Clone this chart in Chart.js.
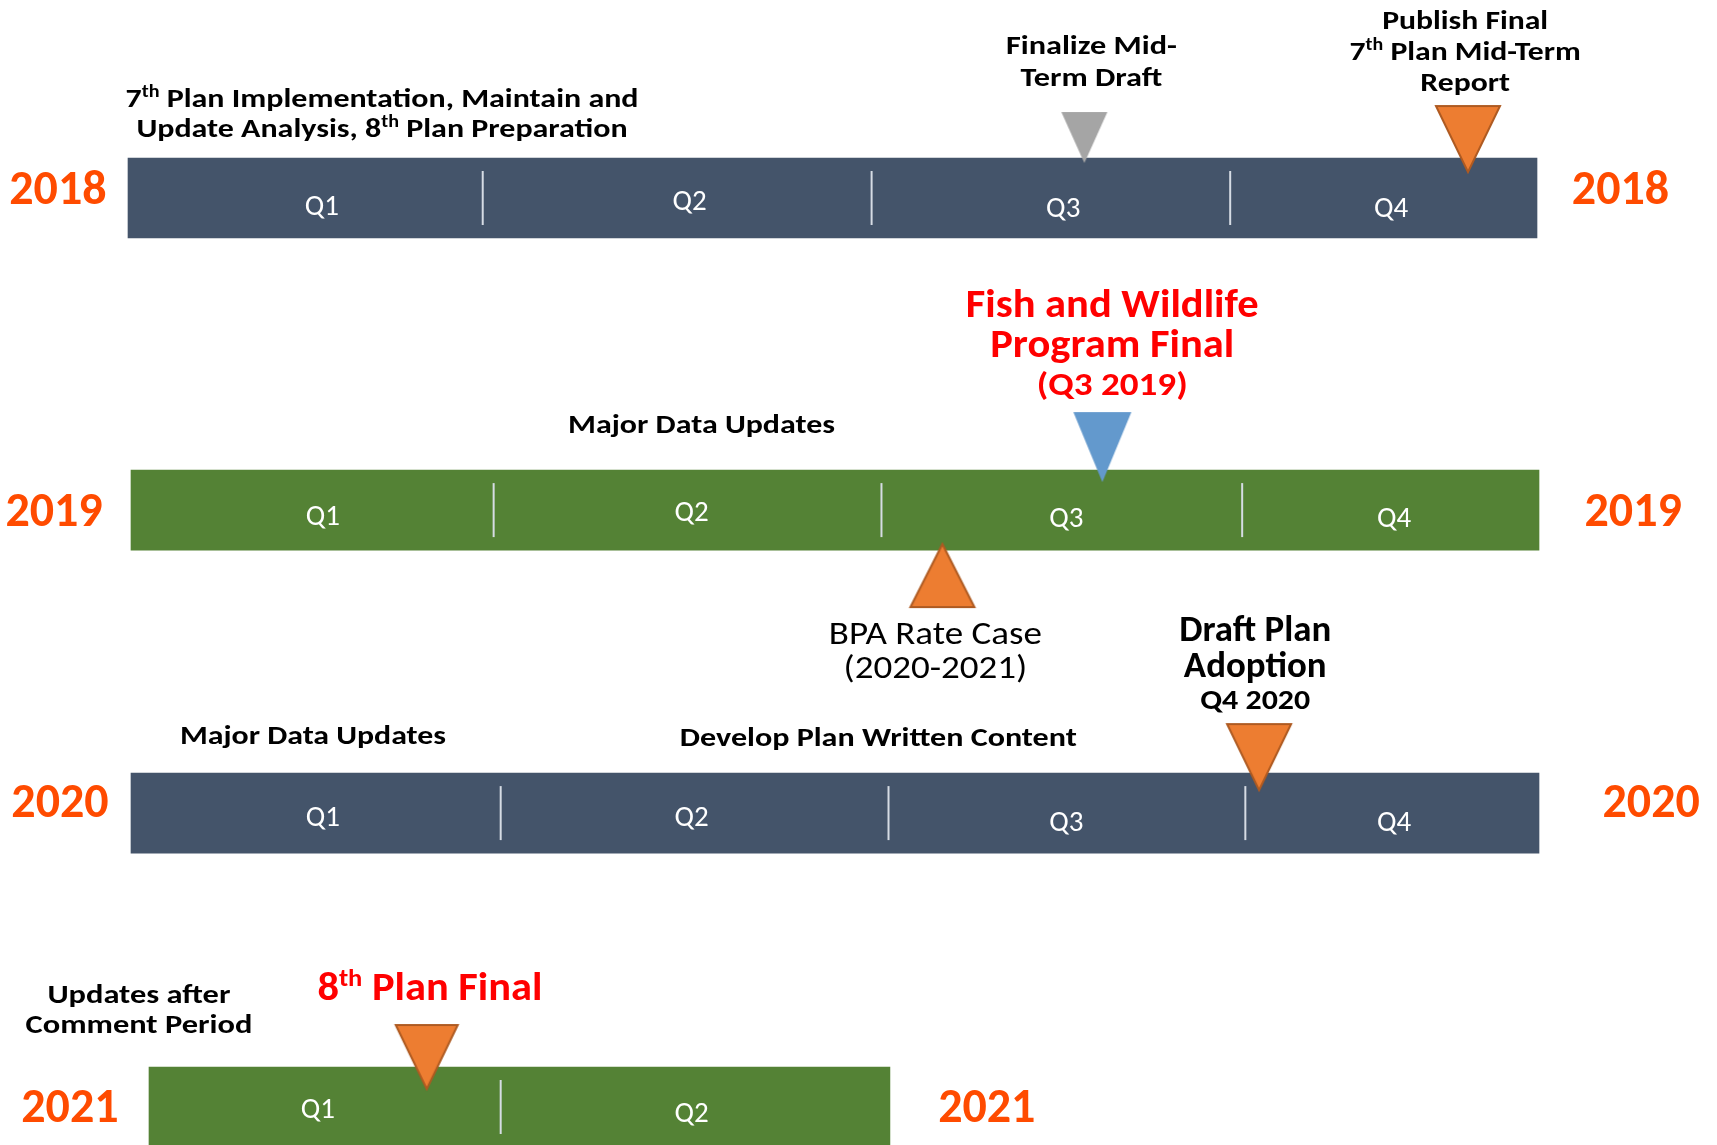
<!DOCTYPE html>
<html>
<head>
  <title>Plan Timeline 2018-2021</title>
  <style>
    body {
      margin: 0;
      padding: 0;
      background-color: white;
    }

    #wrap {
      width: 1717px;
      height: 1145px;
    }
  </style>
</head>
<body>
  <div id="wrap"><canvas id="timeline"></canvas></div>

  <script src="https://cdn.jsdelivr.net/npm/chart.js"></script>
  <script>
    // one row per year, x runs in quarters (0 = start of Q1, 4 = end of Q4)
    const years = ["2018", "2019", "2020", "2021"];
    const barStart = [0, 0.0085, 0.0085, 0.0596];
    const barEnd = [4, 4.0057, 4.0057, 2.163];
    const quarterLabels = [["Q1", "Q2", "Q3", "Q4"], ["Q1", "Q2", "Q3", "Q4"], ["Q1", "Q2", "Q3", "Q4"], ["Q1", "Q2"]];
    const quarterCenters = [[0.550, 1.594, 2.655, 3.586], [0.553, 1.600, 2.664, 3.594], [0.553, 1.600, 2.664, 3.594], [0.539, 1.600]];
    const quarterBreaks = [[1.007, 2.111, 3.129], [1.038, 2.139, 3.163], [1.058, 2.159, 3.172], [1.058]];

    // milestone markers
    const milestoneRow = [0, 0, 1, 1, 2, 3];
    const milestoneX = [2.715, 3.804, 2.766, 2.312, 3.211, 0.848];

    // layout / styles
    const rowPos = [0, 1.03, 2.03, 3];
    const barColors = ["#44546A", "#548235", "#44546A", "#548235"];
    const FONT = "Carlito, Calibri, 'Liberation Sans Narrow', 'DejaVu Sans Condensed', sans-serif";
    const YEAR_COLOR = "#FF4B00";

    const markerStyle = [
      { fill: "#A5A5A5", stroke: null, w: 46, h: 51, tip: -35, up: false },
      { fill: "#ED7D31", stroke: "#AE5A21", w: 64, h: 66, tip: -26, up: false },
      { fill: "#6399CD", stroke: null, w: 58, h: 70, tip: -28, up: false },
      { fill: "#ED7D31", stroke: "#AE5A21", w: 64, h: 63, tip: 34, up: true },
      { fill: "#ED7D31", stroke: "#AE5A21", w: 64, h: 66, tip: -23, up: false },
      { fill: "#ED7D31", stroke: "#AE5A21", w: 62, h: 64, tip: -18, up: false }
    ];

    const yearLeftX = [-0.199, -0.210, -0.193, -0.165];
    const yearRightX = [4.237, 4.273, 4.324, 2.438];
    const yearDy = [6, 16, 4, 15];
    const quarterDy = [[7, 2, 9, 9], [5, 1, 7, 7], [3, 3, 8, 8], [1, 5]];

    // free text next to the bars; "^th" is drawn as superscript
    const notes = [
      { row: 0, x: 0.721, dy: [-91, -61], size: 27, w: 513, weight: "bold", color: "black",
        lines: ["7^th Plan Implementation, Maintain and", "Update Analysis, 8^th Plan Preparation"] },
      { row: 0, x: 2.735, dy: [-144, -112], size: 27, w: 171, weight: "bold", color: "black",
        lines: ["Finalize Mid-", "Term Draft"] },
      { row: 0, x: 3.796, dy: [-169, -138, -107], size: 27, w: 166, weight: "bold", color: "black",
        lines: ["Publish Final", "7^th Plan Mid-Term", "Report"] },
      { row: 1, x: 1.628, dy: [-77], size: 27, w: 267, weight: "bold", color: "black",
        lines: ["Major Data Updates"] },
      { row: 1, x: 2.794, dy: [-193, -153], size: 40, w: 293, weight: "bold", color: "#FF0000",
        lines: ["Fish and Wildlife", "Program Final"] },
      { row: 1, x: 2.794, dy: [-115], size: 32, w: 151, weight: "bold", color: "#FF0000",
        lines: ["(Q3 2019)"] },
      { row: 1, x: 2.292, dy: [134, 168], size: 33, w: 213, weight: "normal", color: "black",
        lines: ["BPA Rate Case", "(2020-2021)"] },
      { row: 2, x: 3.200, dy: [-172, -136], size: 36, w: 152, weight: "bold", color: "black",
        lines: ["Draft Plan", "Adoption"] },
      { row: 2, x: 3.200, dy: [-104], size: 28, w: 110, weight: "bold", color: "black",
        lines: ["Q4 2020"] },
      { row: 2, x: 0.525, dy: [-69], size: 27, w: 266, weight: "bold", color: "black",
        lines: ["Major Data Updates"] },
      { row: 2, x: 2.130, dy: [-67], size: 27, w: 397, weight: "bold", color: "black",
        lines: ["Develop Plan Written Content"] },
      { row: 3, x: 0.031, dy: [-104, -74], size: 27, w: 183, weight: "bold", color: "black",
        lines: ["Updates after", "Comment Period"] },
      { row: 3, x: 0.857, dy: [-107], size: 40, w: 225, weight: "bold", color: "#FF0000",
        lines: ["8^th Plan Final"] }
    ];

    function triangleImage(s) {
      const half = Math.abs(s.tip) + s.h + 4;
      const c = document.createElement("canvas");
      c.width = s.w + 6;
      c.height = half * 2;
      const g = c.getContext("2d");
      const cx = c.width / 2;
      const ty = half + s.tip;
      const by = s.up ? ty + s.h : ty - s.h;
      g.beginPath();
      g.moveTo(cx - s.w / 2, by);
      g.lineTo(cx + s.w / 2, by);
      g.lineTo(cx, ty);
      g.closePath();
      g.fillStyle = s.fill;
      g.fill();
      if (s.stroke) {
        g.strokeStyle = s.stroke;
        g.lineWidth = 2;
        g.stroke();
      }
      return c;
    }

    function splitSup(line) {
      return line.split(/(\^\w+)/).filter(p => p).map(p => p[0] === "^" ? { t: p.slice(1), sup: true } : { t: p, sup: false });
    }

    function lineWidth(ctx, parts, font) {
      let w = 0;
      parts.forEach(p => {
        ctx.font = p.sup ? font.sup : font.main;
        w += ctx.measureText(p.t).width;
      });
      return w;
    }

    function drawLine(ctx, parts, x, y, size, weight, sx) {
      const font = { main: weight + " " + size + "px " + FONT, sup: weight + " " + Math.round(size * 0.62) + "px " + FONT };
      const w = lineWidth(ctx, parts, font);
      ctx.save();
      ctx.translate(x, y);
      ctx.scale(sx, 1);
      let cx = -w / 2;
      parts.forEach(p => {
        ctx.font = p.sup ? font.sup : font.main;
        ctx.fillText(p.t, cx, p.sup ? -size * 0.36 : 0);
        cx += ctx.measureText(p.t).width;
      });
      ctx.restore();
    }

    const textPlugin = {
      id: "timelineText",
      afterDatasetsDraw(chart) {
        const ctx = chart.ctx;
        const xs = chart.scales.x;
        const ys = chart.scales.y;
        ctx.save();
        ctx.textAlign = "left";
        ctx.textBaseline = "alphabetic";

        // year names on both sides of each bar
        ctx.fillStyle = YEAR_COLOR;
        years.forEach((yr, i) => {
          const y = ys.getPixelForValue(rowPos[i]) + yearDy[i];
          const parts = [{ t: yr, sup: false }];
          drawLine(ctx, parts, xs.getPixelForValue(yearLeftX[i]), y, 48, "bold", 1);
          drawLine(ctx, parts, xs.getPixelForValue(yearRightX[i]), y, 48, "bold", 1);
        });

        // quarter names inside the bars
        ctx.fillStyle = "white";
        quarterLabels.forEach((qs, i) => {
          qs.forEach((q, j) => {
            const y = ys.getPixelForValue(rowPos[i]) + quarterDy[i][j] + 10;
            drawLine(ctx, [{ t: q, sup: false }], xs.getPixelForValue(quarterCenters[i][j]), y, 29, "normal", 1);
          });
        });

        notes.forEach(n => {
          ctx.fillStyle = n.color;
          const font = { main: n.weight + " " + n.size + "px " + FONT, sup: n.weight + " " + Math.round(n.size * 0.62) + "px " + FONT };
          const first = splitSup(n.lines[0]);
          const sx = n.w / lineWidth(ctx, first, font);
          const x = xs.getPixelForValue(n.x);
          n.lines.forEach((line, k) => {
            const y = ys.getPixelForValue(rowPos[n.row]) + n.dy[k];
            drawLine(ctx, splitSup(line), x, y, n.size, n.weight, sx);
          });
        });
        ctx.restore();
      }
    };

    const barData = years.map((yr, i) => ({ x: [barStart[i], barEnd[i]], y: rowPos[i] }));
    const breakData = [];
    quarterBreaks.forEach((row, i) => row.forEach(b => breakData.push({ x: b, y: rowPos[i] })));
    const milestoneData = milestoneX.map((x, i) => ({ x: x, y: rowPos[milestoneRow[i]] }));

    const chart = new Chart(document.getElementById("timeline"), {
      data: {
        datasets: [
          {
            type: "bar",
            indexAxis: "y",
            data: barData,
            backgroundColor: barColors,
            borderWidth: 0,
            barThickness: 80,
            clip: false,
            order: 3
          },
          {
            type: "scatter",
            data: breakData,
            pointStyle: "line",
            rotation: 90,
            radius: 27,
            hoverRadius: 27,
            borderColor: "#D6DCE4",
            borderWidth: 2,
            clip: false,
            order: 2
          },
          {
            type: "scatter",
            data: milestoneData,
            pointStyle: markerStyle.map(triangleImage),
            radius: 30,
            hoverRadius: 30,
            clip: false,
            order: 1
          }
        ]
      },
      options: {
        responsive: true,
        maintainAspectRatio: false,
        animation: false,
        events: [],
        layout: { padding: 0, autoPadding: false },
        plugins: {
          legend: { display: false },
          title: { display: false },
          tooltip: { enabled: false }
        },
        scales: {
          x: { type: "linear", min: -0.3634, max: 4.511, display: false, offset: false },
          y: { type: "linear", min: -0.6535, max: 3.1254, reverse: true, display: false, offset: false }
        }
      },
      plugins: [textPlugin]
    });
  </script>
</body>
</html>
